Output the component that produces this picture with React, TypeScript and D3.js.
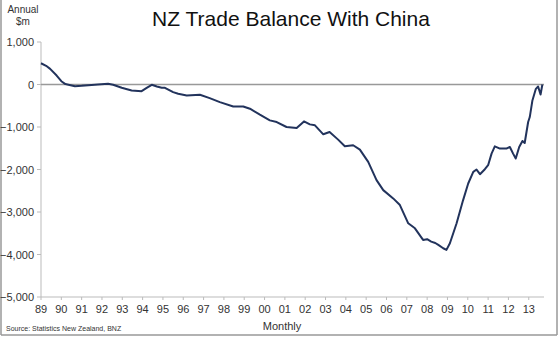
import React from "react";
import * as d3 from "d3";

const years: number[] = [
  1989.0, 1989.25, 1989.45, 1989.77, 1990.0, 1990.2, 1990.35, 1990.67, 1991.0, 1991.33,
  1991.8, 1992.3, 1992.55, 1992.97, 1993.46, 1993.95, 1994.2, 1994.45, 1994.7, 1994.94,
  1995.1, 1995.5, 1995.75, 1996.17, 1996.82, 1997.3, 1997.8, 1998.46, 1998.95, 1999.28,
  1999.77, 2000.26, 2000.6, 2001.08, 2001.58, 2001.94, 2002.23, 2002.48, 2002.89, 2003.2,
  2003.62, 2003.95, 2004.36, 2004.69, 2005.1, 2005.51, 2005.84, 2006.33, 2006.66, 2007.07,
  2007.4, 2007.8, 2008.0, 2008.2, 2008.4, 2008.55, 2008.79, 2008.95, 2009.12, 2009.45, 2009.77, 2010.02,
  2010.27, 2010.43, 2010.6, 2010.84, 2011.0, 2011.17, 2011.33, 2011.58, 2011.9, 2012.07,
  2012.23, 2012.36, 2012.53, 2012.69, 2012.8, 2012.97, 2013.05, 2013.18, 2013.35, 2013.46,
  2013.58, 2013.67,
];

const balance: number[] = [
  500, 440, 368, 211, 77, 10, -7, -40, -30, -16,
  0, 16, -7, -77, -140, -157, -80, -7, -47, -77,
  -77, -180, -218, -258, -242, -320, -414, -516, -516, -570,
  -711, -844, -883, -1000, -1024, -868, -938, -961, -1172, -1118,
  -1297, -1454, -1430, -1532, -1821, -2251, -2485, -2680, -2837, -3266,
  -3384, -3657, -3640, -3697, -3730, -3775, -3853, -3892, -3736, -3266, -2720, -2329,
  -2056, -2001, -2110, -1993, -1899, -1626, -1454, -1508, -1508, -1470,
  -1626, -1743, -1470, -1329, -1376, -883, -766, -375, -102, -47,
  -235, 0,
];

const yTicks: number[] = [1000, 0, -1000, -2000, -3000, -4000, -5000];
const xTickYears: number[] = d3.range(1989, 2014);

const title = "NZ Trade Balance With China";
const source = "Source: Statistics New Zealand, BNZ";

export default function App() {
  const W = 560, H = 338;
  const left = 41, right = 544, top = 42, bottom = 297;
  const x = d3.scaleLinear().domain([1989, 2013.75]).range([left, right]);
  const y = d3.scaleLinear().domain([1000, -5000]).range([top, bottom]);
  const pts: [number, number][] = years.map((yr, i) => [yr, balance[i]]);
  const line = d3.line<[number, number]>().x(d => x(d[0])).y(d => y(d[1]));
  const fmt = d3.format(",");
  const font = "Liberation Sans, Arial, sans-serif";
  const textCol = "#333";

  return (
    <svg width={W} height={H} style={{ position: "absolute", left: 0, top: 0, background: "#fff" }} fontFamily={font}>
      <rect x={0} y={0} width={W} height={H} fill="#fff" />
      <line x1={1} x2={1} y1={0} y2={335} stroke="#999" strokeWidth={1.5} />
      <line x1={1} x2={557} y1={335} y2={335} stroke="#999" strokeWidth={1.5} />
      <line x1={557} x2={557} y1={0} y2={335} stroke="#999" strokeWidth={1.5} />

      <text x={291} y={26} textAnchor="middle" fontSize={21} fill="#111">{title}</text>
      <text x={23} y={13} textAnchor="middle" fontSize={10} fill={textCol}>Annual</text>
      <text x={23} y={25} textAnchor="middle" fontSize={10} fill={textCol}>$m</text>

      <line x1={left} x2={left} y1={top} y2={bottom} stroke="#bbb" strokeWidth={1} />
      {yTicks.map(t => (
        <g key={t}>
          <line x1={left - 4} x2={left} y1={y(t)} y2={y(t)} stroke="#bbb" />
          <text x={34} y={y(t) + 4} textAnchor="end" fontSize={11} fill={textCol}>{fmt(t)}</text>
        </g>
      ))}

      <line x1={left} x2={right} y1={bottom} y2={bottom} stroke="#bbb" strokeWidth={1} />
      {xTickYears.map(yr => (
        <g key={yr}>
          <line x1={x(yr)} x2={x(yr)} y1={bottom} y2={bottom + 3} stroke="#bbb" />
          <text x={x(yr)} y={bottom + 16} textAnchor="middle" fontSize={11} fill={textCol}>
            {String(yr % 100).padStart(2, "0")}
          </text>
        </g>
      ))}
      <text x={282} y={330} textAnchor="middle" fontSize={11} fill={textCol}>Monthly</text>
      <text x={6} y={331} fontSize={7} fill={textCol}>{source}</text>

      <line x1={left} x2={right} y1={y(0)} y2={y(0)} stroke="#999" strokeWidth={1.5} />

      <path d={line(pts) || ""} fill="none" stroke="#22335c" strokeWidth={2} strokeLinejoin="round" />
    </svg>
  );
}
